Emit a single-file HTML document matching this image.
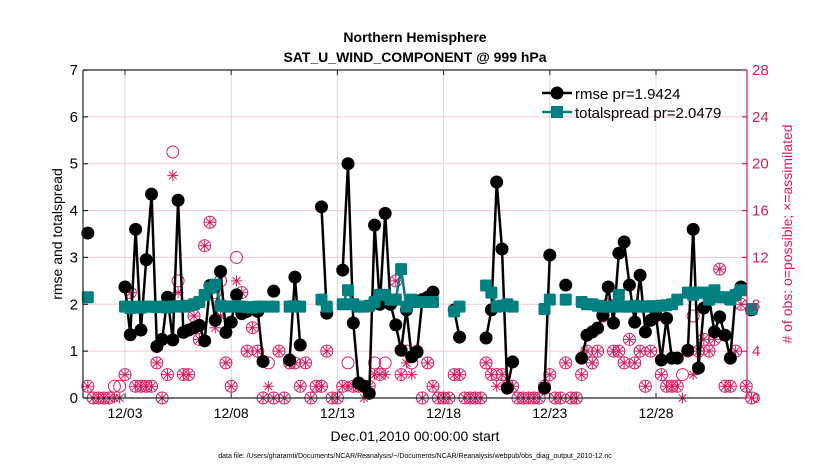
<!DOCTYPE html>
<html><head><meta charset="utf-8"><style>
body{margin:0;background:#fff;width:830px;height:470px;overflow:hidden}
svg{display:block;font-family:"Liberation Sans",sans-serif}
</style></head><body>
<svg id="chart" width="830" height="470" viewBox="0 0 830 470" xmlns="http://www.w3.org/2000/svg">
<text x="415" y="42" text-anchor="middle" font-size="14" font-weight="bold">Northern Hemisphere</text>
<text x="415" y="62" text-anchor="middle" font-size="14" font-weight="bold">SAT_U_WIND_COMPONENT @ 999 hPa</text>
<g id="grid"></g>
<g id="obs"></g>
<g id="lines"></g>
<g id="axes"></g>
<g>
<line x1="542" y1="93" x2="572" y2="93" stroke="#000" stroke-width="2.5"/>
<circle cx="557" cy="93" r="6.5" fill="#000"/>
<text x="575" y="99" font-size="15">rmse pr=1.9424</text>
<line x1="542" y1="112" x2="572" y2="112" stroke="#008080" stroke-width="2.5"/>
<rect x="551" y="106" width="12" height="12" fill="#008080"/>
<text x="575" y="118" font-size="15">totalspread pr=2.0479</text>
</g>
<text transform="translate(62,234) rotate(-90)" text-anchor="middle" font-size="14">rmse and totalspread</text>
<text transform="translate(792,234) rotate(-90)" text-anchor="middle" font-size="14" fill="#d81b60">&#35; of obs: o=possible; ×=assimilated</text>
<text x="415" y="441" text-anchor="middle" font-size="14">Dec.01,2010 00:00:00 start</text>
<text x="415" y="458" text-anchor="middle" font-size="7">data file: /Users/gharamti/Documents/NCAR/Reanalysis/~/Documents/NCAR/Reanalysis/webpub/obs_diag_output_2010-12.nc</text>
</svg>
<script>
const rmse=[3.52,null,null,null,null,null,null,2.37,1.35,3.6,1.45,2.95,4.35,1.1,1.25,2.15,1.24,4.22,1.4,1.45,1.5,1.55,1.22,2.4,1.66,2.7,1.4,1.62,2.2,1.8,1.85,1.9,1.85,0.78,null,2.28,null,null,0.81,2.58,1.13,null,null,null,4.08,1.81,null,null,2.73,5.0,1.6,0.32,0.25,0.1,3.69,2.0,3.94,2.0,1.56,1.02,1.88,0.88,0.98,2.1,2.15,2.26,null,null,null,1.88,1.3,null,null,null,null,1.28,1.88,4.61,3.18,0.21,0.77,null,null,null,null,null,0.21,3.05,null,null,2.41,null,null,0.85,1.34,1.41,1.49,1.77,2.37,1.6,3.09,3.33,2.41,1.62,2.62,1.41,1.66,1.77,0.81,1.7,0.85,0.85,null,1.02,3.6,0.64,1.92,2.13,1.41,1.73,1.34,0.85,2.2,2.37,null,1.88];
const spread=[2.15,null,null,null,null,null,null,1.95,1.92,1.95,1.93,1.95,1.95,1.94,1.95,1.93,1.95,1.96,1.95,1.97,2.0,2.05,2.2,2.35,2.42,1.97,1.95,1.95,1.96,1.95,1.94,1.93,1.95,1.95,null,1.95,null,null,1.95,1.96,1.95,null,null,null,2.1,1.95,null,null,2.0,2.3,2.0,1.95,1.95,1.97,2.05,2.2,2.2,2.1,2.1,2.75,1.95,2.1,2.05,2.05,2.05,2.05,null,null,null,1.85,1.95,null,null,null,null,2.4,2.25,1.95,1.97,2.0,1.95,null,null,null,null,null,1.9,2.1,null,null,2.1,null,null,2.05,2.0,2.0,1.97,1.95,1.95,1.95,2.2,1.95,1.95,1.97,1.95,1.95,1.96,1.95,1.97,1.98,2.0,2.1,null,2.25,2.2,2.25,2.25,2.1,2.3,2.15,2.15,2.1,2.2,2.3,null,1.9];
const possible=[1,0,0,0,0,1,1,2,9,1,1,1,1,3,0,2,21,10,2,2,7,5,13,15,9,10,3,1,12,9,4,6,4,0,3,0,4,0,3,3,1,3,0,1,1,4,0,0,1,3,1,1,1,1,3,2,3,8,10,2,4,3,4,0,3,1,0,0,0,2,2,0,0,0,0,3,2,2,2,1,1,0,0,0,0,0,1,2,0,0,3,0,0,2,4,3,4,7,8,4,4,3,5,3,4,1,4,7,2,1,1,1,2,4,7,4,5,4,5,11,1,1,4,8,1,0];
const assimilated=[1,0,0,0,0,0,0,2,9,1,1,1,1,3,0,2,19,9,2,2,7,5,13,15,6,7,3,1,10,9,4,6,4,0,1,0,4,0,3,3,1,3,0,1,1,4,0,0,1,1,1,1,0,1,2,2,2,8,10,2,3,2,4,0,3,1,0,0,0,2,2,0,0,0,0,3,2,1,2,1,1,0,0,0,0,0,1,2,0,0,3,0,0,2,4,3,4,7,8,4,4,3,5,3,4,1,4,7,2,1,1,1,0,4,2,4,5,4,5,11,1,1,4,8,1,0];
const leftTicks=[0,1,2,3,4,5,6,7];
const rightTicks=[0,4,8,12,16,20,24,28];
const dateTicks=[2,7,12,17,22,27];
const dateLabels=["12/03","12/08","12/13","12/18","12/23","12/28"];
const t0=0.25, dt=0.25;

const NS="http://www.w3.org/2000/svg";
const L=83,R=747,T=70,B=398;
const PINK="#d81b60",TEAL="#008080";
function xS(t){return 125+21.24*(t-2);}
function yL(v){return B-(v/7)*(B-T);}
function yR(v){return B-(v/28)*(B-T);}
function mk(tag,parent){const e=document.createElementNS(NS,tag);parent.appendChild(e);return e;}
const grid=document.getElementById('grid'),axes=document.getElementById('axes'),obs=document.getElementById('obs'),lines=document.getElementById('lines');

rightTicks.forEach(v=>{
  if(v===0||v===28)return;
  const l=mk('line',grid);
  
  
  l.setAttribute('x1',L);l.setAttribute('x2',R);l.setAttribute('y1',yR(v));l.setAttribute('y2',yR(v));
  l.setAttribute('stroke','#f3c6d6');l.setAttribute('stroke-width','1');
});
dateTicks.forEach((d,k)=>{
  const x=xS(d);
  const l=mk('line',grid);
  
  
  l.setAttribute('x1',x);l.setAttribute('x2',x);l.setAttribute('y1',T);l.setAttribute('y2',B);
  l.setAttribute('stroke','#d8d8d8');l.setAttribute('stroke-width','1');
  [[B,B-5],[T,T+5]].forEach(p=>{const tk=mk('line',axes);
    
    
    tk.setAttribute('x1',x);tk.setAttribute('x2',x);tk.setAttribute('y1',p[0]);tk.setAttribute('y2',p[1]);tk.setAttribute('stroke','#222');});
  const tx=mk('text',axes);
  
  
  tx.setAttribute('x',x);tx.setAttribute('y',418);tx.setAttribute('text-anchor','middle');tx.setAttribute('font-size','14');
  tx.textContent=dateLabels[k];
});

// obs markers
const clipG=obs;
possible.forEach((p,i)=>{
  const x=xS(t0+dt*i); if(x<L-2||x>R+8)return;
  const a=assimilated[i];
  const c=mk('circle',obs);
  
  
  c.setAttribute('cx',x);c.setAttribute('cy',yR(p));c.setAttribute('r','6');
  c.setAttribute('fill','none');c.setAttribute('stroke',PINK);c.setAttribute('stroke-width','1');
  const y=yR(a),r=5.5,d=r*0.707;
  const s=mk('path',obs);
  
  
  s.setAttribute('d',`M${x-r},${y}H${x+r}M${x},${y-r}V${y+r}M${x-d},${y-d}L${x+d},${y+d}M${x-d},${y+d}L${x+d},${y-d}`);
  s.setAttribute('stroke',PINK);s.setAttribute('stroke-width','1');s.setAttribute('fill','none');
});

function series(vals,color,name,marker){
  let d='';let pen=false;
  vals.forEach((v,i)=>{
    if(v===null){pen=false;return;}
    const x=xS(t0+dt*i),y=yL(v);
    d+=(pen?'L':'M')+x.toFixed(1)+','+y.toFixed(1);pen=true;
  });
  const p=mk('path',lines);
  
  
  p.setAttribute('d',d);p.setAttribute('stroke',color);p.setAttribute('stroke-width','2.5');p.setAttribute('fill','none');
  vals.forEach((v,i)=>{
    if(v===null)return;
    const x=xS(t0+dt*i),y=yL(v);
    if(marker==='circle'){
      const c=mk('circle',lines);
      
      
      c.setAttribute('cx',x);c.setAttribute('cy',y);c.setAttribute('r','6.5');c.setAttribute('fill',color);
    }else{
      const c=mk('rect',lines);
      
      
      c.setAttribute('x',x-6);c.setAttribute('y',y-6);c.setAttribute('width','12');c.setAttribute('height','12');c.setAttribute('rx','1.5');c.setAttribute('fill',color);
    }
  });
}
series(rmse,'#000','rmse','circle');
series(spread,TEAL,'spread','square');

// axes frame
function ln(x1,y1,x2,y2,c,nm){const l=mk('line',axes);
  
  
  l.setAttribute('x1',x1);l.setAttribute('y1',y1);l.setAttribute('x2',x2);l.setAttribute('y2',y2);l.setAttribute('stroke',c);l.setAttribute('stroke-width','1.2');}
ln(L,T,R,T,'#222','top-axis');
ln(L,B,R,B,'#222','x-axis');
ln(L,T,L,B,'#222','left-y-axis');
ln(R,T,R,B,PINK,'right-y-axis');
leftTicks.forEach(v=>{
  const y=yL(v);
  ln(L,y,L+5,y,'#222','left-y-tick');
  const t=mk('text',axes);
  
  
  t.setAttribute('x',78);t.setAttribute('y',y+5);t.setAttribute('text-anchor','end');t.setAttribute('font-size','15');
  t.textContent=v;
});
rightTicks.forEach(v=>{
  const y=yR(v);
  ln(R-5,y,R,y,PINK,'right-y-tick');
  const t=mk('text',axes);
  
  
  t.setAttribute('x',752);t.setAttribute('y',y+5);t.setAttribute('font-size','15');t.setAttribute('fill',PINK);
  t.textContent=v;
});
</script>
</body></html>
